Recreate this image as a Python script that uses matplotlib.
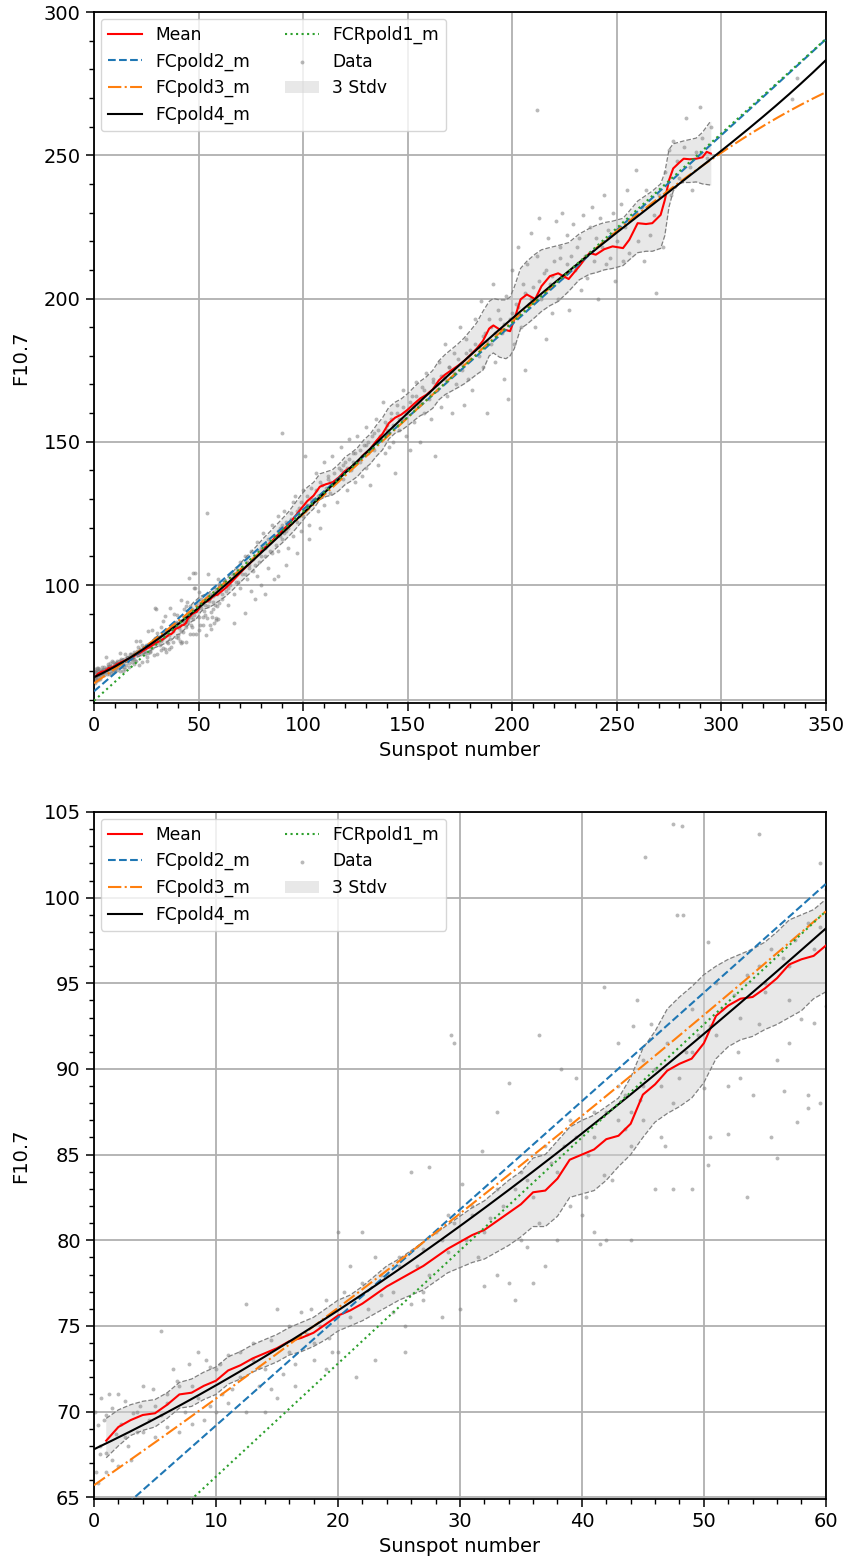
import numpy as np
import matplotlib
matplotlib.use("Agg")
import matplotlib.pyplot as plt
from matplotlib.ticker import MultipleLocator

# ---------------- data ----------------
# polynomial fit coefficients (highest power first)
poly1 = [0.66, 59.6]
poly2 = [6.4e-5, 0.6278, 62.9]
poly3 = [-2.771e-6, 1.2433e-3, 0.4937, 65.7]
poly4 = [1.8735e-8, -1.46219e-5, 3.61403e-3, 0.338418, 67.8]

mean_x = [1, 2, 3, 4, 5, 6, 7, 8, 9, 10, 11, 12, 13, 14, 15, 16, 17, 18, 19, 20,
          21, 22, 23, 24, 25, 26, 27, 28, 29, 30, 31, 32, 33, 34, 35, 36, 37, 38, 39, 40,
          41, 42, 43, 44, 45, 46, 47, 48, 49, 50, 51, 52, 53, 54, 55, 56, 57, 58, 59, 60,
          63, 66, 69, 72, 75, 78, 81, 84, 87, 90, 93, 96, 99, 102, 105, 108, 111, 114, 117, 120,
          123, 126, 129, 132, 135, 138, 141, 144, 147, 150, 153, 156, 159, 162, 165, 168, 171, 174, 177, 180,
          183, 186, 189, 191, 194, 197, 199, 201, 204, 207, 211, 214, 218, 222, 227, 232, 237, 240, 244, 248,
          253, 256, 260, 264, 267, 271, 273, 275, 277, 280, 282, 285, 288, 291, 293, 295]
mean_y = [68.3, 69.1, 69.5, 69.8, 69.9, 70.4, 71.0, 71.1, 71.5, 71.8, 72.4, 72.7, 73.1, 73.4, 73.7, 74.1, 74.3, 74.6, 75.1, 75.6,
          75.9, 76.3, 76.8, 77.3, 77.7, 78.1, 78.5, 79.0, 79.5, 79.9, 80.3, 80.6, 81.1, 81.6, 82.1, 82.8, 82.9, 83.6, 84.7, 85.0,
          85.3, 85.9, 86.1, 86.8, 88.5, 89.1, 89.9, 90.3, 90.6, 91.5, 93.1, 93.7, 94.1, 94.2, 94.7, 95.3, 96.1, 96.4, 96.6, 97.2,
          99.0, 101.2, 103.5, 105.8, 107.9, 110.2, 112.5, 114.6, 116.8, 118.9, 121.2, 123.8, 126.6, 129.3, 131.2, 134.3, 135.2, 135.8, 137.5, 139.8,
          141.2, 142.9, 145.5, 147.4, 150.3, 152.8, 156.5, 158.4, 159.5, 161.2, 163.2, 165.1, 166.4, 168.3, 171.5, 173.5, 175.0, 176.5, 178.2, 180.3,
          182.5, 185.2, 189.5, 190.6, 189.2, 189.0, 188.6, 192.7, 199.7, 201.4, 199.8, 204.3, 207.8, 208.8, 206.8, 211.2, 215.9, 215.3, 217.2, 218.2,
          217.6, 220.5, 226.3, 226.0, 226.3, 229.2, 234.4, 241.3, 245.4, 247.5, 248.8, 248.6, 248.8, 249.3, 251.2, 250.6]
band_hi = [69.6, 70.1, 70.4, 70.6, 70.7, 71.1, 71.7, 71.9, 72.3, 72.6, 73.2, 73.5, 73.9, 74.2, 74.5, 74.9, 75.2, 75.5, 76.0, 76.5,
           76.8, 77.3, 77.9, 78.5, 78.9, 79.4, 79.9, 80.4, 80.9, 81.4, 81.9, 82.3, 82.9, 83.5, 84.0, 84.8, 85.0, 85.8, 86.6, 87.0,
           87.3, 87.8, 88.3, 89.5, 91.2, 92.2, 93.5, 94.2, 94.8, 95.5, 96.0, 96.4, 96.7, 97.0, 97.4, 98.0, 98.7, 99.0, 99.3, 99.9,
           101.9, 104.3, 106.7, 109.2, 111.4, 113.8, 116.3, 118.5, 120.8, 123.1, 125.5, 128.4, 131.4, 134.1, 135.8, 138.8, 139.5, 140.2, 142.1, 144.6,
           146.1, 147.9, 150.6, 152.6, 155.7, 158.4, 162.0, 163.8, 165.0, 166.8, 169.0, 171.1, 172.7, 174.9, 178.3, 180.5, 182.3, 184.1, 186.2, 188.8,
           191.5, 195.5, 199.0, 200.0, 199.5, 199.5, 200.5, 204.0, 210.5, 213.0, 215.5, 217.0, 217.8, 218.5, 219.5, 222.5, 224.5, 225.5, 226.5, 227.0,
           228.0, 230.5, 234.0, 236.0, 237.5, 240.0, 244.0, 252.0, 254.0, 254.6, 255.0, 255.5, 256.0, 258.0, 260.0, 262.0]
band_lo = [67.3, 68.0, 68.6, 68.9, 69.1, 69.6, 70.2, 70.3, 70.7, 71.0, 71.6, 71.9, 72.3, 72.6, 72.9, 73.3, 73.5, 73.8, 74.2, 74.7,
           75.0, 75.3, 75.7, 76.1, 76.5, 76.8, 77.1, 77.6, 78.1, 78.4, 78.7, 78.9, 79.3, 79.7, 80.2, 80.8, 80.8, 81.4, 82.5, 82.7,
           82.9, 83.5, 84.3, 85.0, 86.0, 86.9, 87.4, 87.8, 88.3, 89.2, 90.6, 91.3, 91.7, 91.9, 92.3, 92.6, 93.0, 93.4, 94.1, 94.5,
           96.1, 98.1, 100.3, 102.4, 104.4, 106.6, 108.7, 110.7, 112.8, 114.7, 116.9, 119.2, 121.8, 124.5, 126.6, 129.8, 130.9, 131.4, 132.9, 135.0,
           136.3, 137.9, 140.4, 142.2, 144.9, 147.2, 151.0, 153.0, 154.0, 155.6, 157.4, 159.1, 160.1, 161.7, 164.7, 166.5, 167.7, 168.9, 170.2, 171.8,
           173.5, 175.0, 180.0, 181.0, 179.5, 179.0, 180.0, 182.5, 189.5, 191.0, 193.5, 195.5, 197.5, 199.0, 202.5, 206.5, 208.5, 209.0, 210.0, 210.5,
           211.5, 213.5, 216.0, 216.5, 216.5, 217.5, 222.0, 232.0, 237.5, 240.2, 240.5, 240.5, 240.7, 240.0, 239.8, 239.6]

data_x = [47.5, 48.2, 45.2, 54.5, 59.5, 47.8, 48.3, 50.3, 60.0, 29.3,
          29.5, 36.5, 34.0, 38.3, 39.5, 41.8, 44.5, 45.7, 43.0, 33.0,
          27.5, 26.0, 31.8, 30.2, 40.3, 41.5, 42.0, 41.8, 43.0, 44.8,
          46.5, 46.8, 47.5, 49.0, 50.3, 52.0, 53.5, 55.5, 56.6, 57.6,
          58.5, 59.5, 60.0, 52.8, 56.0, 57.0, 58.0, 59.0, 54.5, 53.0,
          50.0, 48.0, 46.0, 45.0, 44.0, 42.5, 38.0, 36.0, 35.5, 35.0,
          34.0, 33.0, 32.0, 31.0, 29.0, 28.0, 27.0, 26.0, 24.5, 25.5,
          24.0, 23.0, 22.0, 21.0, 20.0, 19.5, 18.0, 17.8, 16.0, 15.0,
          14.5, 13.5, 13.0, 12.5, 11.0, 10.5, 9.5, 8.5, 8.0, 7.0,
          6.5, 5.5, 5.0, 4.0, 3.2, 2.5, 2.0, 1.5, 1.0, 0.8,
          0.3, 0.5, 0.2, 0.3, 1.5, 1.0, 1.8, 2.8, 3.5, 4.5,
          5.5, 6.0, 7.5, 8.5, 9.5, 11.3, 12.5, 14.0, 15.5, 16.5,
          17.5, 18.5, 19.3, 21.0, 22.5, 23.5, 24.5, 25.0, 26.5, 27.5,
          28.5, 29.5, 30.5, 31.5, 32.5, 33.5, 34.5, 35.5, 36.5, 37.5,
          38.5, 39.5, 40.5, 41.0, 42.0, 43.5, 44.0, 45.0, 46.5, 47.5,
          48.5, 49.5, 50.5, 51.5, 52.5, 53.5, 54.5, 55.5, 56.5, 57.5,
          58.5, 59.5, 51.0, 49.0, 55.0, 57.0, 52.0, 50.5, 54.0, 56.0,
          58.5, 46.0, 44.0, 40.0, 41.0, 39.0, 37.0, 38.0, 36.0, 34.5,
          32.0, 30.0, 28.5, 27.0, 25.5, 23.0, 21.5, 20.0, 19.0, 18.0,
          16.5, 15.0, 14.0, 12.0, 11.0, 10.0, 9.0, 8.0, 7.0, 6.0,
          5.0, 4.0, 3.0, 2.0, 1.0, 0.5, 0.1, 0.6, 1.2, 2.2,
          3.8, 4.8, 6.8, 7.8, 9.2, 10.3, 12.0, 13.0, 14.5, 16.0,
          17.0, 19.0, 20.5, 22.0, 23.5, 25.0, 27.0, 29.0, 31.0, 33.0,
          35.0, 37.0, 39.0, 41.0, 43.0, 45.0, 47.0, 49.0, 51.0, 53.0,
          55.0, 57.0, 59.0, 44.2, 43.5, 2.5, 3.5, 6.0, 10.0, 13.5,
          61, 62, 63, 64, 65, 66, 67, 68, 69, 70,
          70, 71, 72, 73, 74, 75, 75, 76, 77, 78,
          78, 79, 80, 80, 81, 82, 83, 84, 85, 85,
          86, 87, 88, 88, 89, 90, 90, 91, 92, 93,
          94, 95, 95, 96, 97, 98, 99, 100, 100, 101,
          102, 103, 104, 105, 106, 107, 108, 109, 110, 110,
          112, 113, 114, 115, 116, 117, 118, 119, 120, 121,
          122, 123, 124, 125, 126, 127, 128, 129, 130, 130,
          131, 132, 133, 134, 135, 136, 137, 138, 139, 140,
          141, 142, 143, 144, 145, 146, 147, 148, 149, 150,
          151, 152, 153, 154, 155, 156, 157, 158, 159, 160,
          161, 162, 163, 164, 165, 166, 167, 168, 169, 170,
          171, 172, 173, 175, 176, 177, 178, 179, 180, 181,
          182, 184, 185, 186, 187, 188, 189, 190, 191, 192,
          193, 195, 196, 197, 198, 199, 200, 201, 202, 203,
          204, 205, 206, 207, 208, 209, 210, 211, 212, 213,
          214, 215, 216, 217, 218, 219, 220, 221, 222, 223,
          224, 225, 226, 227, 228, 229, 230, 232, 233, 234,
          235, 236, 237, 238, 239, 240, 241, 242, 243, 244,
          245, 246, 247, 248, 249, 250, 252, 253, 254, 255,
          256, 258, 259, 260, 262, 263, 264, 266, 268, 269,
          270, 272, 273, 275, 276, 277, 279, 280, 282, 283,
          285, 286, 288, 290, 291, 293, 295, 212, 336, 334,
          54, 67, 72, 77, 82, 88, 92, 97, 103, 108,
          61, 63, 64, 66, 67, 68, 69, 71, 72, 73,
          74, 76, 77, 79, 80, 81, 82, 83, 84, 86,
          87, 88, 89, 90, 91, 92, 93, 94, 96, 97,
          98, 99, 101, 102, 103, 104, 106, 107, 109, 111,
          112, 113, 115, 116, 118, 119, 121, 122, 124, 125,
          127, 128, 130, 131, 133, 134, 136, 137, 139, 140,
          142, 143, 145, 146, 148, 149, 151, 153, 154, 156,
          158, 160, 162, 164, 166, 168, 170, 172, 174, 176,
          178, 180, 182, 184, 186, 188, 190, 192, 194, 196,
          200, 203, 206, 209, 213, 216, 219, 223, 226, 231]
data_y = [104.3, 104.2, 102.4, 103.7, 102.0, 99.0, 99.0, 97.4, 100.5, 92.0,
          91.5, 92.0, 89.2, 90.0, 89.5, 94.8, 94.0, 92.6, 91.5, 87.5,
          84.3, 84.0, 85.2, 83.3, 82.5, 79.8, 80.0, 83.8, 87.0, 88.2,
          86.0, 85.5, 83.0, 83.0, 84.4, 86.2, 82.5, 86.0, 88.7, 86.9,
          87.7, 88.0, 93.7, 91.0, 90.5, 91.5, 92.9, 92.7, 92.6, 89.5,
          88.9, 89.5, 90.0, 89.0, 87.5, 83.5, 84.0, 82.5, 79.6, 80.0,
          77.5, 78.0, 80.5, 82.0, 79.3, 80.5, 77.0, 76.3, 75.8, 75.0,
          78.0, 79.0, 80.5, 78.5, 80.5, 73.5, 73.0, 76.0, 73.5, 76.0,
          71.3, 71.5, 74.0, 76.3, 73.3, 71.0, 72.6, 73.5, 71.5, 71.5,
          72.5, 74.7, 70.3, 71.5, 69.9, 70.6, 71.0, 70.2, 69.8, 69.5,
          69.2, 67.5, 66.5, 65.8, 67.2, 67.6, 68.7, 68.0, 68.8, 69.5,
          69.8, 70.5, 70.0, 70.8, 70.3, 71.3, 70.0, 72.5, 72.2, 72.8,
          74.5, 75.0, 74.3, 75.5, 76.0, 76.8, 77.0, 79.0, 78.5, 78.0,
          80.0, 81.0, 80.0, 79.0, 81.3, 82.0, 83.0, 83.5, 81.0, 84.5,
          85.5, 86.0, 85.0, 86.0, 87.5, 86.5, 85.5, 87.0, 89.0, 88.0,
          91.0, 92.0, 92.5, 93.5, 94.3, 95.5, 96.0, 97.0, 96.5, 97.5,
          98.5, 98.3, 95.0, 93.5, 94.5, 94.0, 89.0, 86.0, 88.5, 84.8,
          88.5, 83.0, 80.0, 81.5, 80.5, 82.0, 78.5, 80.0, 77.5, 76.5,
          77.3, 76.0, 75.5, 76.5, 73.5, 73.0, 72.0, 73.5, 72.5, 74.0,
          71.5, 70.8, 70.0, 72.0, 70.5, 70.0, 69.5, 69.3, 68.8, 69.1,
          68.5, 68.8, 67.2, 66.8, 66.5, 68.0, 70.0, 70.8, 71.0, 69.3,
          70.3, 71.3, 71.8, 72.8, 73.0, 72.8, 73.5, 73.0, 74.2, 75.0,
          75.8, 76.5, 77.0, 77.5, 78.0, 78.5, 79.5, 81.5, 81.5, 83.0,
          84.0, 85.5, 87.0, 87.5, 89.0, 90.5, 91.5, 91.0, 92.0, 93.0,
          95.0, 96.0, 97.0, 92.5, 88.5, 68.5, 70.0, 71.0, 72.5, 72.6,
          95, 101, 98, 93, 100, 104, 97, 106, 101, 108,
          99, 104, 110, 102, 107, 112, 98, 105, 110, 115,
          103, 108, 113, 100, 118, 110, 106, 115, 121, 111,
          102, 117, 124, 112, 120, 116, 153, 126, 119, 113,
          123, 129, 117, 131, 122, 127, 119, 133, 124, 145,
          128, 121, 134, 130, 139, 126, 136, 131, 143, 128,
          138, 132, 145, 136, 129, 141, 148, 137, 143, 133,
          151, 140, 146, 136, 152, 143, 138, 149, 155, 141,
          146, 135, 152, 147, 158, 142, 151, 164, 146, 156,
          148, 160, 150, 139, 163, 154, 158, 168, 152, 161,
          147, 166, 157, 171, 163, 150, 169, 160, 174, 165,
          158, 172, 145, 168, 178, 162, 173, 184, 166, 176,
          160, 181, 170, 190, 175, 163, 186, 172, 182, 168,
          193, 180, 199, 176, 188, 160, 193, 184, 205, 178,
          196, 188, 172, 201, 165, 193, 210, 184, 198, 218,
          190, 205, 175, 212, 198, 223, 204, 190, 215, 228,
          200, 209, 186, 221, 205, 195, 213, 227, 200, 218,
          230, 208, 222, 196, 215, 226, 210, 221, 203, 229,
          215, 207, 225, 232, 213, 221, 200, 228, 218, 236,
          212, 224, 214, 230, 206, 220, 233, 213, 225, 238,
          216, 228, 245, 220, 232, 213, 238, 222, 229, 202,
          236, 218, 244, 252, 236, 255, 248, 242, 253, 263,
          246, 238, 251, 267, 256, 249, 260, 265.8, 277, 269.6,
          125, 86.7, 90.3, 95, 97, 103, 107, 111, 116, 120,
          97, 100, 99, 102, 104, 101, 105, 106, 104, 108,
          106, 109, 107, 112, 110, 114, 113, 116, 112, 117,
          114, 119, 117, 121, 118, 122, 120, 125, 123, 126,
          124, 129, 126, 131, 128, 130, 133, 131, 135, 134,
          137, 136, 139, 137, 140, 142, 141, 144, 143, 146,
          147, 145, 149, 150, 148, 153, 154, 152, 157, 154,
          158, 156, 160, 158, 162, 160, 164, 162, 166, 164,
          168, 167, 171, 170, 173, 172, 176, 174, 179, 177,
          181, 179, 184, 183, 187, 185, 190, 188, 193, 191,
          195, 197, 202, 200, 206, 210, 208, 214, 212, 218]

x_label = "Sunspot number"
y_label = "F10.7"

# ---------------- plotting ----------------
plt.rcParams['font.family'] = ['DejaVu Sans']
plt.rcParams['font.size'] = 14

fig = plt.figure(figsize=(8.47, 15.63), dpi=100)
ax1 = fig.add_axes([0.111, 0.5502, 0.864, 0.4421])
ax2 = fig.add_axes([0.111, 0.0410, 0.864, 0.4395])


def draw(ax, xmax, ylim, xmaj, xmin, ymaj, ymin):
    xf = np.linspace(0, xmax, 500)
    ax.plot(mean_x, mean_y, color='red', lw=1.5, label='Mean', zorder=3)
    ax.plot(xf, np.polyval(poly2, xf), '--', color='tab:blue', lw=1.5, label='FCpold2_m', zorder=3)
    ax.plot(xf, np.polyval(poly3, xf), '-.', color='tab:orange', lw=1.5, label='FCpold3_m', zorder=3)
    ax.plot(xf, np.polyval(poly4, xf), '-', color='black', lw=1.5, label='FCpold4_m', zorder=3)
    ax.plot(xf, np.polyval(poly1, xf), ':', color='tab:green', lw=1.5, label='FCRpold1_m', zorder=3)
    ax.scatter(data_x, data_y, s=8, color='grey', alpha=0.55, lw=0, label='Data', zorder=2.5)
    ax.fill_between(mean_x, band_lo, band_hi, color='lightgrey', alpha=0.5, lw=0,
                    label='3 Stdv', zorder=2)
    ax.plot(mean_x, band_hi, '--', color='grey', lw=0.9, zorder=2.2)
    ax.plot(mean_x, band_lo, '--', color='grey', lw=0.9, zorder=2.2)
    ax.set_xlim(0, xmax)
    ax.set_ylim(*ylim)
    ax.xaxis.set_major_locator(MultipleLocator(xmaj))
    ax.xaxis.set_minor_locator(MultipleLocator(xmin))
    ax.yaxis.set_major_locator(MultipleLocator(ymaj))
    ax.yaxis.set_minor_locator(MultipleLocator(ymin))
    ax.grid(True, which='major', color='#b0b0b0', lw=1.3)
    ax.tick_params(which='major', length=6, width=1.1, labelsize=14)
    ax.tick_params(which='minor', length=3.5, width=1.0)
    for s in ax.spines.values():
        s.set_linewidth(1.3)
    ax.set_xlabel(x_label, fontsize=14)
    ax.set_ylabel(y_label, fontsize=14, labelpad=10)
    ax.legend(loc='upper left', ncol=2, fontsize=12.3, borderaxespad=0.4)


draw(ax1, 350, (58.8, 300), 50, 10, 50, 10)
ax1.axhline(60, color='#b0b0b0', lw=1.3, zorder=1)
draw(ax2, 60, (64.9, 105), 10, 2, 5, 1)

fig.savefig("out.png", dpi=100)
